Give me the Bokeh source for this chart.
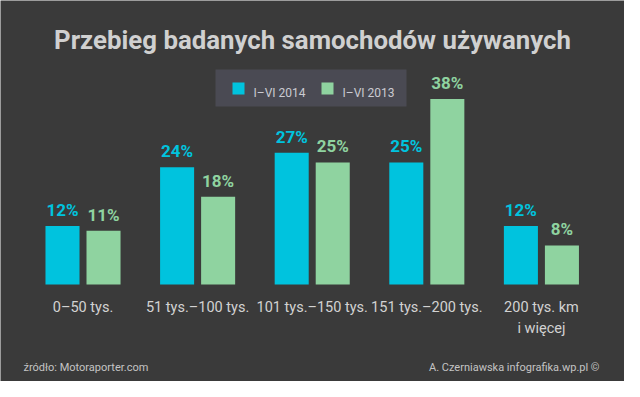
from bokeh.plotting import figure
from bokeh.models import Range1d, Label, ColumnDataSource
from bokeh.core.properties import value
from bokeh.embed import file_html
from bokeh.resources import INLINE

# ---- data ----
categories = ["0–50 tys.", "51 tys.–100 tys.", "101 tys.–150 tys.", "151 tys.–200 tys.", "200 tys. km\ni więcej"]
series_2014 = [12, 24, 27, 25, 12]
series_2013 = [11, 18, 25, 38, 8]
series_names = ["I–VI 2014", "I–VI 2013"]
title_text = "Przebieg badanych samochodów używanych"
source_text = "źródło: Motoraporter.com"
credit_text = "A. Czerniawska infografika.wp.pl ©"

# ---- style ----
BG = "#3a3a3a"
BLUE = "#00c3de"
GREEN = "#8fd3a0"
TXT = "#d2d2d2"
W, H = 624, 381
FONT = "Roboto"

X0, X1 = -0.72, 4.725
Y0, Y1 = -19.88, 58.19

def dx(px):
    return X0 + px * (X1 - X0) / W

def dy(py_top):
    return Y1 - py_top * (Y1 - Y0) / H

idx = list(range(len(categories)))
off = 0.179
bw = 0.297
x14 = [i - off for i in idx]
x13 = [i + off for i in idx]

p = figure(width=W, height=H, output_backend="svg", toolbar_location=None,
           x_range=Range1d(X0, X1), y_range=Range1d(Y0, Y1),
           min_border=0, min_border_left=0, min_border_right=0,
           min_border_top=0, min_border_bottom=0)
p.axis.visible = False
p.grid.visible = False
p.outline_line_color = None
p.background_fill_color = BG
p.border_fill_color = BG

src14 = ColumnDataSource(dict(x=x14, top=series_2014, lab=[f"{v}%" for v in series_2014]))
src13 = ColumnDataSource(dict(x=x13, top=series_2013, lab=[f"{v}%" for v in series_2013]))

p.vbar(x="x", top="top", bottom=0, width=bw, source=src14, fill_color=BLUE, line_color=None)
p.vbar(x="x", top="top", bottom=0, width=bw, source=src13, fill_color=GREEN, line_color=None)

p.text(x="x", y="top", text="lab", source=src14, text_color=BLUE,
       text_font=value(FONT), text_font_size="17px", text_font_style="bold",
       text_align="center", text_baseline="alphabetic", y_offset=-16)
p.text(x="x", y="top", text="lab", source=src13, text_color=GREEN,
       text_font=value(FONT), text_font_size="17px", text_font_style="bold",
       text_align="center", text_baseline="alphabetic", y_offset=-16)

catsrc = ColumnDataSource(dict(x=idx, y=[0] * len(idx), t=categories))
p.text(x="x", y="y", text="t", source=catsrc, text_color=TXT,
       text_font=value(FONT), text_font_size="14.5px", text_align="center",
       text_baseline="top", y_offset=15, text_line_height=1.2)

# ---- legend (drawn by hand) ----
p.quad(left=[dx(215)], right=[dx(406)], top=[dy(69)], bottom=[dy(106)],
       fill_color="#4a4a53", line_color=None)
sw_left = [232, 321]
sw_cols = [BLUE, GREEN]
p.quad(left=[dx(v) for v in sw_left], right=[dx(v + 12) for v in sw_left],
       top=[dy(82)] * 2, bottom=[dy(94)] * 2, fill_color=sw_cols, line_color=None)
for lx, name in zip([253, 342], series_names):
    p.add_layout(Label(x=lx, y=H - 92, x_units="screen", y_units="screen", text=name,
                       text_font=FONT, text_font_size="12px", text_color="#cbcbd2",
                       text_align="left", text_baseline="alphabetic"))

p.add_layout(Label(x=W / 2, y=342, x_units="screen", y_units="screen", text=title_text,
                   text_font=FONT, text_font_size="25.8px", text_font_style="bold",
                   text_color="#d0d0d0", text_align="center", text_baseline="alphabetic"))
p.add_layout(Label(x=23, y=14.5, x_units="screen", y_units="screen", text=source_text,
                   text_font=FONT, text_font_size="11px", text_color="#c4c4c4",
                   text_align="left", text_baseline="alphabetic"))
p.add_layout(Label(x=599, y=14.5, x_units="screen", y_units="screen", text=credit_text,
                   text_font=FONT, text_font_size="11px", text_color="#c4c4c4",
                   text_align="right", text_baseline="alphabetic"))

open("out.html", "w").write(file_html(p, INLINE))
